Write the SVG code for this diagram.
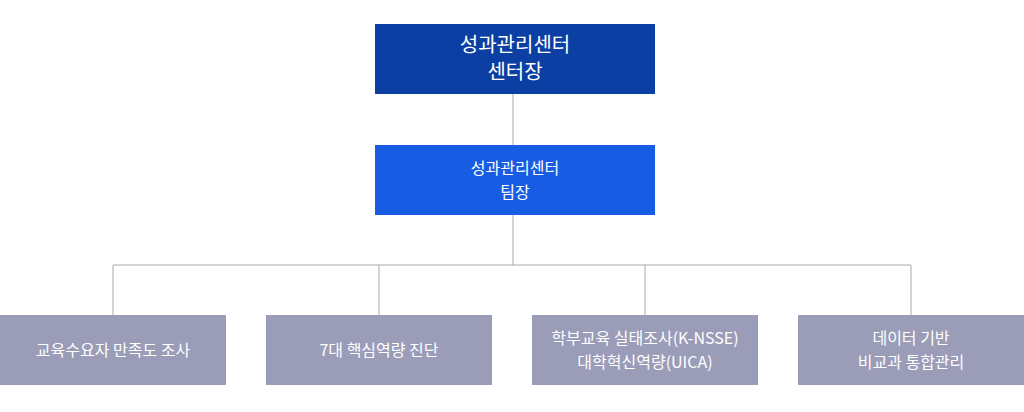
<svg xmlns="http://www.w3.org/2000/svg" width="1024" height="412" viewBox="0 0 1024 412">
<style>
text{font-family:"Noto Sans CJK KR","Noto Sans",sans-serif;fill:#fff;text-anchor:middle}
.b{fill:#9a9cb8}
.l{stroke:#aaaaaa;stroke-width:1;fill:none}
</style>
<rect width="1024" height="412" fill="#fff"/>
<g id="connectors">
<path class="l" d="M513 94V145M513 215V265M113 265H911M113 265V315M379 265V315M645 265V315M911 265V315"/>
</g>
<g id="n1"><rect x="375" y="24" width="280" height="70" fill="#0b3fa3"/>
<text x="515" y="52" font-size="20">성과관리센터</text><text x="515" y="79" font-size="20">센터장</text></g>
<g id="n2"><rect x="375" y="145" width="280" height="70" fill="#175ce3"/>
<text x="515" y="174" font-size="16">성과관리센터</text><text x="515" y="198" font-size="16">팀장</text></g>
<g id="n3"><rect class="b" x="0" y="315" width="226" height="70"/>
<text x="113" y="356" font-size="16">교육수요자 만족도 조사</text></g>
<g id="n4"><rect class="b" x="266" y="315" width="226" height="70"/>
<text x="379" y="356" font-size="16">7대 핵심역량 진단</text></g>
<g id="n5"><rect class="b" x="532" y="315" width="226" height="70"/>
<text x="645" y="344" font-size="16">학부교육 실태조사(K-NSSE)</text><text x="645" y="368" font-size="16">대학혁신역량(UICA)</text></g>
<g id="n6"><rect class="b" x="798" y="315" width="226" height="70"/>
<text x="911" y="344" font-size="16">데이터 기반</text><text x="911" y="368" font-size="16">비교과 통합관리</text></g>
</svg>
